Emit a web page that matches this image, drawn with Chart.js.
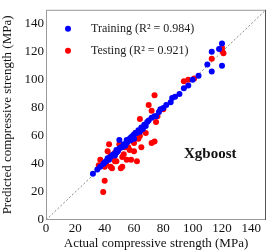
<!DOCTYPE html>
<html>
<head>
<meta charset="utf-8">
<script src="https://cdn.jsdelivr.net/npm/chart.js@4/dist/chart.umd.min.js"></script>
<style>
  html, body { margin: 0; padding: 0; background: #fff; }
  #wrap { width: 272px; height: 251px; }
</style>
</head>
<body>
<div id="wrap"><canvas id="c" width="272" height="251"></canvas></div>
<script>
// Training points [actual, predicted]
const trainPts = [
  [32,33],[35,36],[37,38],[39,40],[40,41],[41,42],[42,44],[43,43],[44,45],[45,46],
  [46,47],[47,46],[48,48],[48,50],[49,49],[50,51],[50,57],[51,52],[52,52],[53,54],
  [54,53],[55,55],[55,57],[56,56],[57,58],[58,57],[58,59],[59,60],[60,61],[60,58],
  [61,62],[62,62],[63,64],[64,63],[65,66],[66,65],[67,68],[68,67],[69,70],[70,71],
  [72,73],[74,74],[75,74],[77,77],[78,79],[80,80],[82,82],[85,84],[86,87],[88,88],
  [91,90],[94,94],[97,96],[100,100],[104,103],[110,111],[113,106],[113,120],[120,110],
  [120,126],[118,122]
];
// Testing points [actual, predicted]
const testPts = [
  [39,20],[40,28],[37,43],[36,39],[40,38],[41,40],[42,49],[43,54],[44,46],[45,37],
  [46,45],[47,48],[48,42],[49,50],[50,54],[51,37],[52,38],[53,47],[54,52],[55,43],
  [56,52],[58,43],[58,58],[60,55],[61,62],[62,42],[64,60],[65,52],[64,72],[66,64],
  [68,62],[70,82],[72,55],[74,56],[72,78],[74,89],[75,70],[76,74],[80,79],[94,99],
  [97,100],[101,101],[113,115],[120,123],[121,119],[120,121],[44,38],[47,42],[52,45],
  [57,50],[60,49],[63,58]
];
const seriesLabels = ['Training (R\u00B2 = 0.984)', 'Testing (R\u00B2 = 0.921)'];
const xTicks = [0, 20, 40, 60, 80, 100, 120, 140];
const yTicks = [0, 20, 40, 60, 80, 100, 120, 140];
const refLine = [[0, 0], [150, 150]];
const modelName = 'Xgboost';
const modelPos = [112, 47];

const serif = '"Liberation Serif", "Times New Roman", serif';
const toXY = arr => arr.map(p => ({ x: p[0], y: p[1] }));

// box, legend and model label drawn inside the plot area
const overlay = {
  id: 'overlay',
  afterDatasetsDraw(chart) {
    const { ctx, chartArea: a, scales } = chart;
    ctx.save();
    ctx.strokeStyle = '#9a9a9a';
    ctx.lineWidth = 1;
    ctx.strokeRect(a.left + 0.5, a.top + 0.5, a.right - a.left - 1, a.bottom - a.top - 1);
    ctx.strokeStyle = '#555';
    ctx.beginPath();
    ctx.moveTo(a.right - 0.5, a.top);
    ctx.lineTo(a.right - 0.5, a.bottom);
    ctx.stroke();

    const cols = ['#0000ff', '#ff0000'];
    seriesLabels.forEach((txt, i) => {
      const y = a.top + 19 + i * 22;
      ctx.fillStyle = cols[i];
      ctx.beginPath();
      ctx.arc(a.left + 22, y, 3, 0, Math.PI * 2);
      ctx.fill();
      ctx.fillStyle = '#222';
      ctx.font = '12px ' + serif;
      ctx.textBaseline = 'middle';
      ctx.fillText(txt, a.left + 45, y);
    });

    ctx.font = 'bold 15px ' + serif;
    ctx.fillStyle = '#111';
    ctx.textAlign = 'center';
    ctx.textBaseline = 'middle';
    ctx.fillText(modelName, scales.x.getPixelForValue(modelPos[0]), scales.y.getPixelForValue(modelPos[1]));
    ctx.restore();
  }
};

new Chart(document.getElementById('c'), {
  type: 'scatter',
  data: {
    datasets: [
      {
        label: 'ref',
        data: toXY(refLine),
        showLine: true,
        borderColor: '#666',
        borderWidth: 0.8,
        borderDash: [2, 2],
        pointRadius: 0,
        order: 3
      },
      {
        label: seriesLabels[1],
        data: toXY(testPts),
        backgroundColor: '#ff0000',
        borderWidth: 0,
        pointRadius: 3,
        order: 2
      },
      {
        label: seriesLabels[0],
        data: toXY(trainPts),
        backgroundColor: '#0000ff',
        borderWidth: 0,
        pointRadius: 3,
        order: 1
      }
    ]
  },
  options: {
    responsive: false,
    animation: false,
    layout: { padding: { top: 7, right: 6, left: 0, bottom: 0 } },
    plugins: { legend: { display: false }, tooltip: { enabled: false } },
    scales: {
      x: {
        type: 'linear',
        min: 0, max: 150,
        afterBuildTicks: s => { s.ticks = xTicks.map(v => ({ value: v })); },
        afterFit: s => { s.height = 31; },
        grid: { display: false, drawTicks: false },
        border: { display: false },
        ticks: { color: '#111', font: { family: serif, size: 13 }, padding: 1, maxRotation: 0 },
        title: { display: true, text: 'Actual compressive strength (MPa)', color: '#111',
                 font: { family: serif, size: 13 }, padding: { top: 0, bottom: 0 } }
      },
      y: {
        type: 'linear',
        min: 0, max: 150,
        afterBuildTicks: s => { s.ticks = yTicks.map(v => ({ value: v })); },
        afterFit: s => { s.width = 46; },
        grid: { display: false, drawTicks: false },
        border: { display: false },
        ticks: { color: '#111', font: { family: serif, size: 13 }, padding: 2 },
        title: { display: true, text: 'Predicted compressive strength (MPa)', color: '#111',
                 font: { family: serif, size: 13 }, padding: { top: 0, bottom: 0 } }
      }
    }
  },
  plugins: [overlay]
});
</script>
</body>
</html>
